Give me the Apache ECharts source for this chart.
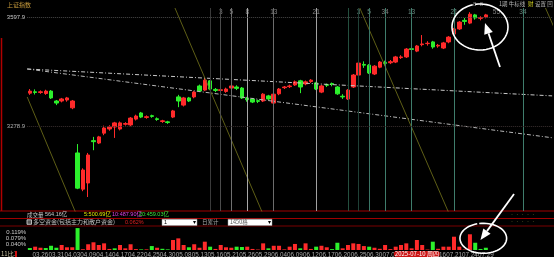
<!DOCTYPE html>
<html><head><meta charset="utf-8">
<script src="https://cdn.jsdelivr.net/npm/echarts@6.0.0/dist/echarts.min.js"></script>
<style>html,body{margin:0;padding:0;background:#000;}#c{width:554px;height:257px;}</style>
</head><body><div id="c"></div>
<script>
// ---------- data ----------
const dates = ['03.24','03.25','03.26','03.27','03.28','03.31','04.01','04.02','04.03','04.07',
'04.08','04.09','04.10','04.11','04.14','04.15','04.16','04.17','04.18','04.21',
'04.22','04.23','04.24','04.25','04.28','04.29','04.30','05.06','05.07','05.08',
'05.09','05.12','05.13','05.14','05.15','05.16','05.19','05.20','05.21','05.22',
'05.23','05.26','05.27','05.28','05.29','05.30','06.03','06.04','06.05','06.06',
'06.09','06.10','06.11','06.12','06.13','06.16','06.17','06.18','06.19','06.20',
'06.23','06.24','06.25','06.26','06.27','06.30','07.01','07.02','07.03','07.04',
'07.07','07.08','07.09','07.10','07.11','07.14','07.15','07.16','07.17','07.18',
'07.21','07.22','07.23','07.24','07.25','07.28','07.29'];
// [open, close, low, high]
const ohlc = [
[3375,3381,3370,3387],[3379,3377,3371,3386],[3377,3379,3373,3383],[3374,3381,3370,3385],[3381,3361,3358,3384],
[3352,3346,3340,3355],[3352,3358,3348,3361],[3355,3361,3350,3364],[3332,3352,3328,3355],[3200,3097,3094,3226],
[3094,3150,3088,3155],[3112,3194,3071,3200],[3236,3233,3208,3247],[3229,3247,3226,3250],[3258,3273,3252,3280],
[3270,3276,3265,3281],[3276,3288,3244,3291],[3270,3288,3266,3292],[3284,3286,3280,3290],[3282,3302,3278,3305],
[3299,3308,3295,3312],[3317,3305,3302,3320],[3304,3306,3300,3310],[3309,3307,3303,3312],[3300,3298,3294,3304],
[3292,3294,3288,3297],[3291,3289,3285,3294],[3305,3323,3302,3326],[3364,3352,3334,3370],[3340,3361,3336,3364],
[3361,3352,3349,3364],[3364,3378,3360,3381],[3396,3381,3378,3400],[3384,3413,3381,3419],[3411,3387,3384,3413],
[3386,3383,3378,3390],[3383,3385,3378,3390],[3380,3387,3376,3391],[3390,3396,3385,3400],[3393,3389,3384,3398],
[3390,3361,3358,3393],[3360,3356,3350,3364],[3358,3349,3346,3361],[3353,3351,3346,3356],[3352,3372,3349,3375],
[3367,3358,3355,3370],[3346,3372,3343,3375],[3373,3387,3369,3390],[3391,3393,3387,3396],[3394,3396,3390,3400],
[3399,3408,3396,3412],[3411,3393,3375,3414],[3402,3408,3398,3412],[3409,3413,3405,3416],[3405,3387,3384,3408],
[3378,3396,3375,3399],[3400,3398,3393,3403],[3403,3401,3395,3406],[3393,3373,3370,3396],[3366,3364,3358,3372],
[3358,3384,3355,3387],[3393,3428,3390,3431],[3428,3463,3425,3466],[3459,3457,3449,3468],[3457,3434,3431,3460],
[3431,3454,3428,3457],[3451,3466,3448,3469],[3465,3462,3456,3470],[3464,3467,3460,3472],[3466,3481,3463,3484],
[3479,3481,3475,3486],[3481,3504,3478,3507],[3505,3503,3496,3510],[3498,3513,3495,3516],[3517,3519,3512,3545],
[3520,3521,3514,3527],[3525,3510,3505,3528],[3513,3515,3508,3519],[3507,3522,3504,3525],[3525,3539,3521,3542],
[3548,3563,3545,3566],[3563,3583,3560,3586],[3588,3585,3575,3595],[3580,3606,3577,3612],[3604,3595,3590,3607],
[3594,3596,3588,3600],[3598,3604,3594,3607]];
// 多空资金 (%), sign: + red, - green
const flow = [
-0.013,0.022,0.015,-0.013,-0.028,-0.015,0.033,0.018,0.018,-0.145,
0.005,0.038,0.051,0.033,0.044,0.007,-0.011,0.033,0.011,0.038,
0.006,-0.004,0.004,-0.026,0.015,-0.008,-0.004,0.066,0.077,0.033,
-0.018,0.038,0.015,0.055,-0.022,0.007,0.033,0.018,0.015,-0.022,
-0.020,0.022,0.007,0.003,0.044,-0.011,0.028,0.028,0.004,0.022,
0.040,-0.011,0.044,0.007,-0.022,0.028,0.018,-0.006,-0.048,0.011,
0.033,0.044,0.040,0.026,-0.022,0.015,0.008,0.033,0.006,0.022,
0.033,0.044,0.011,0.066,0.033,0.003,-0.055,0.008,0.022,0.022,
0.088,0.022,0.003,0.104,-0.048,-0.007,-0.015];
const priceMarks = [3597.9, 3278.9];
// trend lines [index, price]
const dashUpper = [[-0.5,3445.7],[98.5,3367.0]];
const dashLower = [[-0.5,3445.7],[98.5,3244.5]];
const yellowA = [[-0.5,3363.8],[9,3012]];
const yellowB = [[27.37,3624.2],[44,3020]];
const yellowC = [[62.23,3624.2],[79,3025]];
const yellowD = [[97.25,3624.2],[99.5,3545]];
// fibonacci time lines
const fibGrayIdx = [34,36,38,41,46,54];
const fibGrayColor = ['#3a3a3a','#4c4c4c','#707070','#a8a8a8','#6c6c6c','#a0a0a0'];
const fibTealIdx = [60,62,64,67,72,80,93];
const fibTealColor = ['#24503f','#1f4036','#3a7565','#3f7d6c','#3f7d6c','#3f7d6c','#3f7d6c'];
const fibLabelsGray = [[36,'3'],[38,'5'],[41,'8'],[46,'13'],[54,'21'],[67,'34'],[88,'55']];
const fibLabelsTeal = [[62,'3'],[64,'5'],[72,'13'],[80,'21'],[93,'34']];
const fibLabelPrice = 3612.5;
// annotations: ellipse [cx, cy, rx, ry], arrow [tailX, tailY, tipX, tipY]
const ellipseTop = [[84.9,3568.6,5.28,67.3]];
const arrowTop = [[88.67,3451.6,85.84,3580.3]];
const ellipseBottom = [[85.52,0.0774,4.4,0.0993]];
const arrowBottom = [[91.32,0.3706,84.99,0.0662]];

// ---------- chart ----------
const FONT = '"Liberation Sans","Noto Sans CJK SC",sans-serif';
const CJK = '"Noto Sans CJK SC","Liberation Sans",sans-serif';
const RED = '#ff2a2a', GREEN = '#2cf02c';
const padRight = 12;
const cats = dates.concat(new Array(padRight).fill(''));
const N = cats.length;
const W = 5.302 * N;

function ellipseItem(params, api){
  const c = api.coord([api.value(0), api.value(1)]);
  const s = api.size([api.value(2), api.value(3)]);
  const pts = [];
  for (let k = 0; k <= 60; k++){
    const t = (-100 + 355 * k / 60) * Math.PI / 180;
    pts.push([c[0] + s[0] * Math.cos(t), c[1] + s[1] * Math.sin(t)]);
  }
  return {type:'polyline', shape:{points:pts}, style:{stroke:'#fff', lineWidth:1.6, fill:null}};
}
function arrowItem(params, api){
  const p0 = api.coord([api.value(0), api.value(1)]);
  const p1 = api.coord([api.value(2), api.value(3)]);
  const dx = p1[0]-p0[0], dy = p1[1]-p0[1], L = Math.hypot(dx, dy);
  const ux = dx/L, uy = dy/L, hl = 11, hw = 4.5;
  const bx = p1[0]-ux*hl, by = p1[1]-uy*hl;
  return {type:'group', children:[
    {type:'line', shape:{x1:p0[0], y1:p0[1], x2:bx, y2:by}, style:{stroke:'#fff', lineWidth:1.8}},
    {type:'polygon', shape:{points:[[p1[0],p1[1]],[bx-uy*hw, by+ux*hw],[bx+uy*hw, by-ux*hw]]}, style:{fill:'#fff'}}
  ]};
}
function txt(x, y, text, fill, size, fam){
  return {type:'text', x:x, y:y, silent:true, style:{text:text, fill:fill, fontSize:size||6, fontFamily:fam||CJK, verticalAlign:'middle'}};
}
function hline(y, color){
  return {type:'line', silent:true, shape:{x1:0, y1:y, x2:554, y2:y}, style:{stroke:color, lineWidth:1}};
}

const fibMarks = fibGrayIdx.map((v,k)=>({xAxis:v, lineStyle:{color:fibGrayColor[k], type:'solid', width:1}, label:{show:false}}))
  .concat(fibTealIdx.map((v,k)=>({xAxis:v, lineStyle:{color:fibTealColor[k], type:'solid', width:1}, label:{show:false}})));
const priceLineMarks = priceMarks.map((v,k)=>({yAxis:v, lineStyle:{color: k===0?'#4a4a4a':'#3a3030', type:'dotted', width:1},
  label:{show:true, position:'start', distance:2, formatter:v.toFixed(1), color: k===0?'#c8c8c8':'#b0b0b0', fontSize:6, fontFamily:FONT}}));

const labelData = fibLabelsGray.map(d=>({value:[d[0], fibLabelPrice, d[1]], label:{color:'#a0a0a0'}}))
  .concat(fibLabelsTeal.map(d=>({value:[d[0], fibLabelPrice, d[1]], label:{color:'#7fa89c'}})));

const option = {
  backgroundColor:'#000',
  animation:false,
  grid:[
    {left:27.2, top:8, width:W, height:203, outerBoundsMode:'none', containLabel:false},
    {left:27.2, top:226, width:W, height:24, outerBoundsMode:'none', containLabel:false}
  ],
  xAxis:[
    {type:'category', gridIndex:0, data:cats, show:false, boundaryGap:true},
    {type:'value', gridIndex:0, min:-0.5, max:N-0.5, show:false},
    {type:'category', gridIndex:1, data:cats, boundaryGap:true,
      axisLine:{show:false}, axisTick:{show:false}, splitLine:{show:false},
      axisLabel:{interval:(i)=> i%3===2 && i<dates.length, color:'#a8a8a8', fontSize:6.3, fontFamily:FONT, margin:2, hideOverlap:false},
      axisPointer:{show:true, status:'show', value:73, type:'line', triggerTooltip:false, lineStyle:{opacity:0},
        label:{show:true, formatter:'2025-07-10 周四', backgroundColor:'#cc1414', color:'#fff', fontSize:6, fontFamily:CJK, padding:[0,1], margin:1}}},
    {type:'value', gridIndex:1, min:-0.5, max:N-0.5, show:false}
  ],
  yAxis:[
    {type:'value', gridIndex:0, min:3030.1, max:3624.2, show:false},
    {type:'value', gridIndex:1, min:0, max:0.1588, interval:0.0397,
      axisLine:{show:false}, axisTick:{show:false}, splitLine:{show:false},
      axisLabel:{color:'#c8c8c8', fontSize:6, fontFamily:FONT, margin:1,
        formatter:(v)=> (v<=0 || v>0.15) ? '' : v.toFixed(3)+'%'}}
  ],
  series:[
    {type:'candlestick', xAxisIndex:0, yAxisIndex:0, data:ohlc, barWidth:4,
      itemStyle:{color:RED, color0:GREEN, borderColor:RED, borderColor0:GREEN, borderWidth:1}},
    {type:'line', xAxisIndex:1, yAxisIndex:0, data:dashUpper, symbol:'none', silent:true,
      lineStyle:{color:'#c8c8c8', width:1, type:[4,2,1,2]},
      markLine:{silent:true, symbol:['none','none'], animation:false, data:fibMarks.concat(priceLineMarks)}},
    {type:'line', xAxisIndex:1, yAxisIndex:0, data:dashLower, symbol:'none', silent:true,
      lineStyle:{color:'#b8b8b8', width:1, type:[4,2,1,2]}},
    {type:'line', xAxisIndex:1, yAxisIndex:0, data:yellowA, symbol:'none', silent:true, lineStyle:{color:'#76761c', width:0.8}},
    {type:'line', xAxisIndex:1, yAxisIndex:0, data:yellowB, symbol:'none', silent:true, lineStyle:{color:'#76761c', width:0.8}},
    {type:'line', xAxisIndex:1, yAxisIndex:0, data:yellowC, symbol:'none', silent:true, lineStyle:{color:'#76761c', width:0.8}},
    {type:'line', xAxisIndex:1, yAxisIndex:0, data:yellowD, symbol:'none', silent:true, lineStyle:{color:'#76761c', width:0.8}},
    {type:'scatter', xAxisIndex:1, yAxisIndex:0, data:labelData, symbolSize:1, silent:true,
      itemStyle:{color:'rgba(0,0,0,0)'},
      label:{show:true, position:'inside', formatter:(p)=> String(p.value[2]), fontSize:6.5, fontFamily:FONT}},
    {type:'bar', xAxisIndex:2, yAxisIndex:1, barWidth:4, silent:true,
      data:flow.map(v=>({value:Math.abs(v), itemStyle:{color: v>=0 ? RED : GREEN}}))},
    {type:'custom', xAxisIndex:1, yAxisIndex:0, data:ellipseTop, renderItem:ellipseItem, clip:false, z:20, silent:true},
    {type:'custom', xAxisIndex:1, yAxisIndex:0, data:arrowTop, renderItem:arrowItem, clip:false, z:20, silent:true},
    {type:'custom', xAxisIndex:3, yAxisIndex:1, data:ellipseBottom, renderItem:ellipseItem, clip:false, z:20, silent:true},
    {type:'custom', xAxisIndex:3, yAxisIndex:1, data:arrowBottom, renderItem:arrowItem, clip:false, z:20, silent:true}
  ],
  graphic:[
    {type:'line', silent:true, shape:{x1:1.5, y1:38, x2:1.5, y2:211}, style:{stroke:'#b00000', lineWidth:1.5}},
    hline(211, '#a00000'), hline(218.5, '#a00000'), hline(226, '#7a0000'),
    txt(7, 5, '上证指数', '#c89b3c', 6),
    txt(473, 4, '8  8', '#8c8c8c', 6, FONT),
    txt(499, 4, '1期 牛标线', '#b4b4b4', 5.5),
    txt(528, 4, '财', '#d8d820', 5.5),
    txt(535, 4, '设置 回', '#b4b4b4', 5.5),
    txt(27, 214.5, '成交量', '#c8c8c8', 5.5),
    txt(45, 214.5, '564.16亿', '#c8c8c8', 5.5, FONT),
    txt(84, 214.5, '5:500.69亿', '#e6e600', 5.5, FONT),
    txt(112, 214.5, '10:487.90亿', '#e040e0', 5.5, FONT),
    txt(139, 214.5, '20:459.03亿', '#3ce63c', 5.5, FONT),
    {type:'rect', silent:true, shape:{x:27, y:219.8, width:4.5, height:4.5}, style:{fill:'#555', stroke:'#ddd', lineWidth:0.8}},
    txt(33, 222.2, '多空资金(包括主力和散户资金)', '#c0c0c0', 6),
    txt(125, 222.2, '0.062%', '#e02020', 5.5, FONT),
    {type:'rect', silent:true, shape:{x:162, y:219.2, width:35, height:6.3}, style:{fill:'#fff', stroke:'#999', lineWidth:0.5}},
    txt(164, 222.3, '1', '#000', 5.5, FONT),
    txt(192.5, 222.3, '▾', '#000', 5.5, CJK),
    txt(202, 222.2, '日累计', '#a8a8a8', 5.5),
    {type:'rect', silent:true, shape:{x:228, y:219.2, width:44, height:6.3}, style:{fill:'#fff', stroke:'#999', lineWidth:0.5}},
    txt(230, 222.3, '1450格', '#555', 5.5),
    txt(267.5, 222.3, '▾', '#000', 5.5, CJK),
    txt(511, 214.5, '·  ·  ·  ·  ·', '#a0a040', 6, FONT),
    txt(511, 221.5, '·  ·  ·  ·  ·', '#a0a040', 6, FONT),
    txt(1, 254, '11比1', '#c8c0a0', 6),
    {type:'rect', silent:true, shape:{x:15, y:251, width:2, height:6}, style:{fill:'#d01010'}}
  ]
};
const chart = echarts.init(document.getElementById('c'));
chart.setOption(option);
</script></body></html>
